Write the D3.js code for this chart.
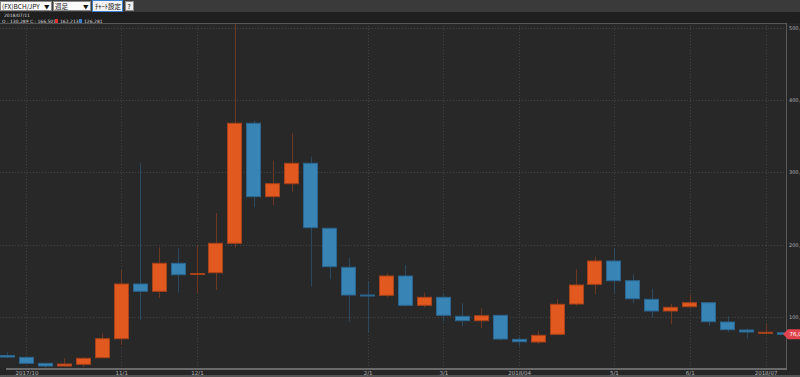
<!DOCTYPE html>
<html lang="ja">
<head>
<meta charset="UTF-8">
<title>(FX)BCH/JPY 週足</title>
<script src="https://cdn.jsdelivr.net/npm/d3@7"></script>
<style>
  html, body { margin: 0; padding: 0; background: #262626; overflow: hidden; }
  svg { display: block; }
</style>
</head>
<body>
<svg id="chart" width="800" height="377"></svg>
<script>
// weekly candles, BCH/JPY
const weeks = [
  "2017-09-25","2017-10-02","2017-10-09","2017-10-16","2017-10-23","2017-10-30",
  "2017-11-06","2017-11-13","2017-11-20","2017-11-27","2017-12-04","2017-12-11",
  "2017-12-18","2017-12-25","2018-01-01","2018-01-08","2018-01-15","2018-01-22",
  "2018-01-29","2018-02-05","2018-02-12","2018-02-19","2018-02-26","2018-03-05",
  "2018-03-12","2018-03-19","2018-03-26","2018-04-02","2018-04-09","2018-04-16",
  "2018-04-23","2018-04-30","2018-05-07","2018-05-14","2018-05-21","2018-05-28",
  "2018-06-04","2018-06-11","2018-06-18","2018-06-25","2018-07-02","2018-07-09"
];
const open = [
  46750, 44260, 35970, 32230, 34580, 43710, 69990, 145640, 135540, 174270, 159470, 161270,
  201930, 367890, 266380, 284350, 312570, 222670, 168730, 130430, 130010, 156700, 116180, 127250,
  100970, 94880, 102350, 69160, 65430, 76070, 117980, 145220, 177450, 150200, 124480, 108300,
  114250, 119780, 93090, 82020, 78560, 78290
];
const high = [
  51180, 44680, 35970, 42880, 44680, 77460, 165000, 312570, 196400, 195010, 198610, 243830,
  505000, 371480, 316160, 354060, 321700, 223000, 182010, 148820, 160440, 171920, 133610, 131390,
  118950, 112030, 102770, 72760, 80640, 124480, 165970, 183400, 195010, 159050, 138720, 117980,
  130840, 120750, 100970, 84370, 90320, 78700
];
const low = [
  43300, 35000, 29470, 31540, 31160, 43500, 61280, 95850, 126280, 133610, 132780, 137340,
  195840, 251720, 254900, 273290, 141910, 152140, 93500, 78700, 127250, 114520, 113420, 93500,
  87550, 84370, 67220, 59890, 62660, 75110, 115630, 131810, 132780, 118950, 99030, 89900,
  113830, 87970, 78840, 70540, 76490, 75800
];
const close = [
  44680, 35970, 32230, 35000, 42880, 69990, 145640, 135540, 174270, 158500, 160160, 201930,
  367890, 266380, 284350, 312570, 223500, 169560, 130430, 130010, 156700, 116180, 127250, 102350,
  94880, 101800, 69570, 65840, 74690, 117560, 144260, 177450, 150200, 125310, 108300, 113420,
  119780, 93500, 82440, 79260, 78840, 76070
];

const tickWeeks = ["2017-10-02","2017-11-06","2017-12-04","2018-02-05","2018-03-05",
                   "2018-04-02","2018-05-07","2018-06-04","2018-07-02"];
const tickLabels = ["2017/10","11/1","12/1","2/1","3/1","2018/04","5/1","6/1","2018/07"];
const priceTicks = [100000, 200000, 300000, 400000, 500000];
const lastPrice = 76074;

const svg = d3.select("#chart");
const W = 800, H = 377;
const plot = { left: 0, right: 786, top: 23, bottom: 368 };

const UP = "#e2591f", UP_EDGE = "#a8421a", UP_WICK = "#6e3722";
const DN = "#3784b5", DN_EDGE = "#2a6690", DN_WICK = "#2c4a5f";

const x = d3.scalePoint().domain(weeks).range([7.5, 784.5]);
const y = d3.scaleLinear().domain([29500, 506500]).range([plot.bottom, plot.top]);
const bodyW = 15;

const candles = weeks.map((w, i) => ({ w, o: open[i], h: high[i], l: low[i], c: close[i] }));

// background
svg.append("rect").attr("width", W).attr("height", H).attr("fill", "#262626");
svg.append("rect").attr("width", W).attr("height", 12).attr("fill", "#3a3a3a");
svg.append("rect").attr("y", 12).attr("width", W).attr("height", 11).attr("fill", "#1f1f1f");
svg.append("rect").attr("x", plot.left).attr("y", plot.top)
  .attr("width", plot.right - plot.left).attr("height", plot.bottom - plot.top)
  .attr("fill", "#282828");

// grid
const grid = svg.append("g");
grid.selectAll(".hg").data(priceTicks).join("line")
  .attr("x1", plot.left).attr("x2", plot.right)
  .attr("y1", d => Math.round(y(d)) + 0.5).attr("y2", d => Math.round(y(d)) + 0.5)
  .attr("stroke", "#444").attr("stroke-dasharray", "1,2");
grid.selectAll(".vg").data(tickWeeks).join("line")
  .attr("x1", d => Math.round(x(d)) + 0.5).attr("x2", d => Math.round(x(d)) + 0.5)
  .attr("y1", plot.top).attr("y2", plot.bottom)
  .attr("stroke", "#444").attr("stroke-dasharray", "1,2");

// candles
svg.append("clipPath").attr("id", "pc").append("rect")
  .attr("x", plot.left).attr("y", plot.top)
  .attr("width", plot.right - plot.left).attr("height", plot.bottom - plot.top);
const cg = svg.append("g").attr("clip-path", "url(#pc)");

cg.selectAll(".wick").data(candles).join("line")
  .attr("x1", d => Math.round(x(d.w)) + 0.5).attr("x2", d => Math.round(x(d.w)) + 0.5)
  .attr("y1", d => y(d.h)).attr("y2", d => y(d.l))
  .attr("stroke", d => d.c >= d.o ? UP_WICK : DN_WICK).attr("stroke-width", 1);

cg.selectAll(".body").data(candles).join("rect")
  .attr("x", d => Math.round(x(d.w) - bodyW / 2) + 0.5)
  .attr("y", d => y(Math.max(d.o, d.c)))
  .attr("width", bodyW - 1)
  .attr("height", d => Math.max(1, Math.abs(y(d.o) - y(d.c))))
  .attr("fill", d => d.c >= d.o ? UP : DN)
  .attr("stroke", d => d.c >= d.o ? UP_EDGE : DN_EDGE)
  .attr("stroke-width", 1);

// frame
svg.append("line").attr("x1", 0).attr("x2", plot.right).attr("y1", plot.top + 0.5).attr("y2", plot.top + 0.5)
  .attr("stroke", "#555");
svg.append("line").attr("x1", plot.right + 0.5).attr("x2", plot.right + 0.5)
  .attr("y1", plot.top).attr("y2", plot.bottom + 1).attr("stroke", "#5a5a5a");
svg.append("rect").attr("x", 6).attr("y", plot.bottom).attr("width", plot.right - 5).attr("height", 2)
  .attr("fill", "#6a6a6a");
svg.append("rect").attr("x", 0).attr("y", 375).attr("width", W).attr("height", 2).attr("fill", "#555");

// axes
const xAxis = d3.axisBottom(x)
  .tickValues(tickWeeks)
  .tickFormat(d => tickLabels[tickWeeks.indexOf(d)])
  .tickSize(0).tickPadding(0);
svg.append("g").attr("transform", `translate(0,${plot.bottom + 2})`).call(xAxis)
  .call(g => g.select(".domain").remove())
  .selectAll("text").attr("fill", "#b0b0b0").attr("font-size", 5.5)
  .attr("font-family", "DejaVu Sans").attr("dy", "0.95em");

const yAxis = d3.axisRight(y).tickValues(priceTicks).tickFormat(d3.format(",")).tickSize(0).tickPadding(3);
svg.append("g").attr("transform", `translate(${plot.right},0)`).call(yAxis)
  .call(g => g.select(".domain").remove())
  .selectAll("text").attr("fill", "#b0b0b0").attr("font-size", 5)
  .attr("font-family", "DejaVu Sans");

// last price tag
const ly = y(lastPrice);
const tag = svg.append("g").attr("transform", `translate(${plot.right - 3},${ly})`);
tag.append("path").attr("d", "M0,0 L5,-5 L20,-5 L20,5 L5,5 Z").attr("fill", "#e0434b");
tag.append("text").attr("x", 6.5).attr("y", 2).attr("fill", "#fff").attr("font-size", 5.5)
  .attr("font-family", "DejaVu Sans").text(d3.format(",")(lastPrice));

// header controls
const hdr = svg.append("g").attr("font-family", "'Noto Sans CJK JP', sans-serif");
function selectBox(x0, w, label) {
  hdr.append("rect").attr("x", x0 + 0.5).attr("y", 1.5).attr("width", w).attr("height", 9)
    .attr("fill", "#fafafa").attr("stroke", "#888");
  hdr.append("text").attr("x", x0 + 2).attr("y", 8.6).attr("font-size", 6.5).attr("fill", "#111").text(label);
  hdr.append("text").attr("x", x0 + w - 7).attr("y", 8.6).attr("font-size", 5.5).attr("fill", "#111").text("▼");
}
selectBox(0, 51, "(FX)BCH/JPY");
selectBox(53, 37, "週足");
hdr.append("rect").attr("x", 92.5).attr("y", 0.5).attr("width", 30).attr("height", 11)
  .attr("fill", "#f2f2f2").attr("stroke", "#3d7fcf");
hdr.append("text").attr("x", 95).attr("y", 8.8).attr("font-size", 6.5).attr("fill", "#111").text("ﾁｬｰﾄ設定");
hdr.append("rect").attr("x", 125.5).attr("y", 1.5).attr("width", 8).attr("height", 9)
  .attr("fill", "#eee").attr("stroke", "#888");
hdr.append("text").attr("x", 127.5).attr("y", 8.8).attr("font-size", 6.5).attr("fill", "#111").text("?");

// info lines
const info = svg.append("g").attr("font-family", "DejaVu Sans").attr("font-size", 4.5).attr("fill", "#ddd");
info.append("text").attr("x", 4).attr("y", 17).text("2018/07/11");
info.append("text").attr("x", 2).attr("y", 23).text("O : 130,289 C : 166,501");
info.append("rect").attr("x", 55).attr("y", 19).attr("width", 3).attr("height", 4).attr("fill", "#e03030");
info.append("text").attr("x", 60).attr("y", 23).text("162,213");
info.append("rect").attr("x", 79).attr("y", 19).attr("width", 3).attr("height", 4).attr("fill", "#3a7fd0");
info.append("text").attr("x", 84).attr("y", 23).text("126,281");
</script>
</body>
</html>
